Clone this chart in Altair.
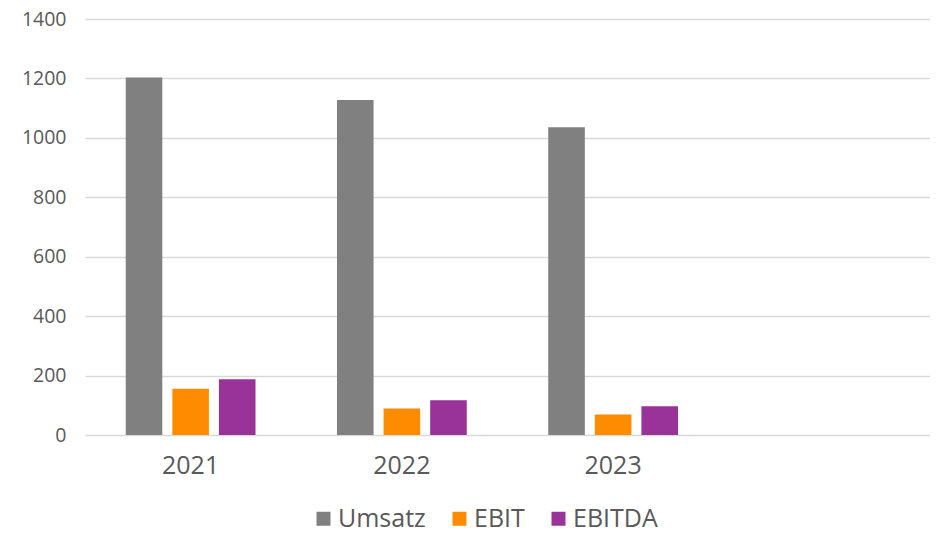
import altair as alt
import pandas as pd

years = ["2021", "2022", "2023"]
series = ["Umsatz", "EBIT", "EBITDA"]
umsatz = [1203, 1127, 1036]
ebit = [156, 89, 69]
ebitda = [188, 117, 97]
colors = ["#808080", "#FF8C00", "#993399"]
y_ticks = [0, 200, 400, 600, 800, 1000, 1200, 1400]

rows = []
for i, y in enumerate(years):
    for s, vals in zip(series, [umsatz, ebit, ebitda]):
        rows.append({"Jahr": y, "Serie": s, "Wert": vals[i]})
df = pd.DataFrame(rows)

font = "Open Sans"
txt = "#595959"

chart = alt.Chart(df).mark_bar().encode(
    x=alt.X("Jahr:N", scale=alt.Scale(domain=years + [" "], paddingInner=0, paddingOuter=0),
            axis=alt.Axis(title=None, labelAngle=0, ticks=False, domain=False, grid=False,
                          labelFontSize=25, labelColor=txt, labelFont=font, labelPadding=18)),
    xOffset=alt.XOffset("Serie:N", sort=series,
                        scale=alt.Scale(paddingInner=0.2146, paddingOuter=0.874)),
    y=alt.Y("Wert:Q", scale=alt.Scale(domain=[0, 1400], nice=False),
            axis=alt.Axis(title=None, values=y_ticks, ticks=False, domain=False, format="d",
                          gridColor="#d9d9d9", gridWidth=1.4,
                          labelFontSize=19.5, labelColor=txt, labelFont=font, labelPadding=19)),
    color=alt.Color("Serie:N", sort=series,
                    scale=alt.Scale(domain=series, range=colors),
                    legend=alt.Legend(title=None, orient="none", direction="horizontal",
                                      legendX=226, legendY=487,
                                      symbolType="square", symbolSize=196, symbolStrokeWidth=0,
                                      labelFontSize=25, labelColor=txt, labelFont=font,
                                      labelOffset=2, columnPadding=21, labelLimit=300)),
).properties(
    width=845, height=416,
    padding={"left": 77, "top": 11, "right": 0, "bottom": 97},
    autosize=alt.AutoSizeParams(type="none"),
    background="white",
).configure_view(stroke=None)

chart.save("out.html", embed_options={"renderer": "svg", "actions": False})
